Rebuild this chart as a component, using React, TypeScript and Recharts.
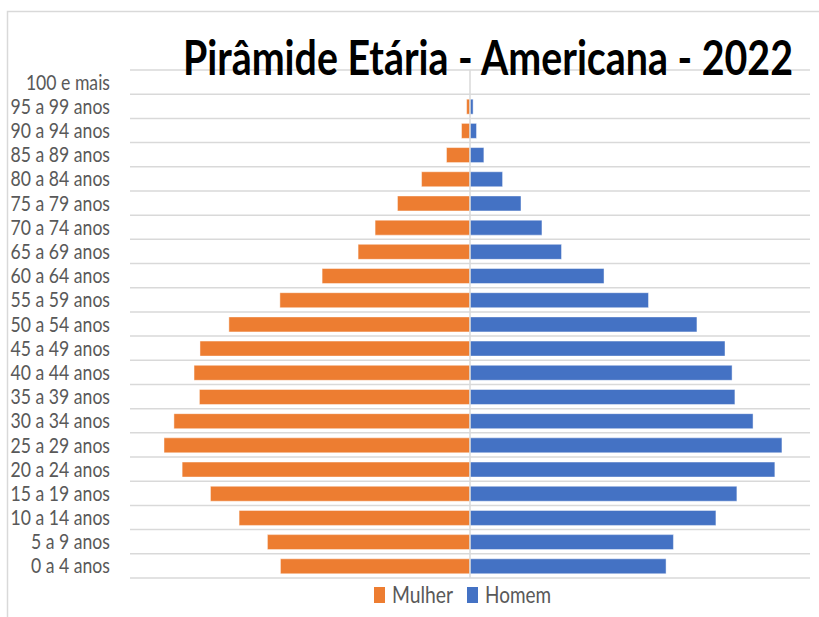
import React from "react";
import {
  BarChart,
  Bar,
  XAxis,
  YAxis,
  CartesianGrid,
  ReferenceLine,
  Legend,
} from "recharts";

// faixas etárias, de baixo para cima
const ages = [
  "0 a 4 anos",
  "5 a 9 anos",
  "10 a 14 anos",
  "15 a 19 anos",
  "20 a 24 anos",
  "25 a 29 anos",
  "30 a 34 anos",
  "35 a 39 anos",
  "40 a 44 anos",
  "45 a 49 anos",
  "50 a 54 anos",
  "55 a 59 anos",
  "60 a 64 anos",
  "65 a 69 anos",
  "70 a 74 anos",
  "75 a 79 anos",
  "80 a 84 anos",
  "85 a 89 anos",
  "90 a 94 anos",
  "95 a 99 anos",
  "100 e mais",
];

// milhões
const mulher = [
  6.69, 7.15, 8.15, 9.16, 10.16, 10.8, 10.45, 9.55, 9.74, 9.53, 8.51, 6.71,
  5.22, 3.95, 3.35, 2.56, 1.71, 0.83, 0.3, 0.12, 0,
];
const homem = [
  6.92, 7.18, 8.68, 9.42, 10.76, 11.01, 9.99, 9.35, 9.25, 9.0, 8.01, 6.3,
  4.73, 3.23, 2.54, 1.8, 1.15, 0.49, 0.23, 0.11, 0,
];

const seriesNames = ["Mulher", "Homem"];

const ORANGE = "#ED7D31";
const BLUE = "#4472C4";
const GRID = "#D9D9D9";
const TEXT = "#595959";
const FONT = "Lato, 'Open Sans', sans-serif";

const data = ages.map((age, i) => ({
  age,
  Mulher: -mulher[i],
  Homem: homem[i],
}));

const AgeTick = (props: any) => {
  const { x, y, payload } = props;
  return (
    <text
      x={x}
      y={y}
      dy="0.36em"
      textAnchor="end"
      fill={TEXT}
      fontSize={21}
      fontFamily={FONT}
      transform={`translate(${x} ${y}) scale(0.84 1) translate(${-x} ${-y})`}
    >
      {payload.value}
    </text>
  );
};

const LegendBox = (props: any) => {
  const items = [...(props.payload || [])].sort(
    (a: any, b: any) =>
      seriesNames.indexOf(a.value) - seriesNames.indexOf(b.value)
  );
  const widths = [61, 66];
  return (
    <svg width={200} height={30} style={{ overflow: "visible" }}>
      {items.map((it: any, i: number) => {
        const x0 = 1 + i * 93;
        return (
          <g key={it.value}>
            <rect x={x0} y={3} width={11} height={16} fill={it.color} />
            <text
              x={x0 + 18}
              y={19}
              fill={TEXT}
              fontSize={23}
              fontFamily={FONT}
              textLength={widths[i]}
              lengthAdjust="spacingAndGlyphs"
            >
              {it.value}
            </text>
          </g>
        );
      })}
    </svg>
  );
};

export default function App() {
  return (
    <div
      style={{
        position: "absolute",
        left: 0,
        top: 0,
        width: 819,
        height: 617,
        background: "#fff",
      }}
    >
      <BarChart
        width={819}
        height={617}
        data={data}
        layout="vertical"
        stackOffset="sign"
        barSize={15}
        margin={{ top: 70, right: 9, bottom: 39, left: 0 }}
      >
        <CartesianGrid
          vertical={false}
          stroke={GRID}
          strokeWidth={1.5}
          horizontalCoordinatesGenerator={({ offset }: any) =>
            Array.from(
              { length: ages.length + 1 },
              (_, i) => offset.top + (i * offset.height) / ages.length
            )
          }
        />
        <XAxis type="number" domain={[-12, 12]} hide />
        <YAxis
          type="category"
          dataKey="age"
          reversed
          width={130}
          axisLine={false}
          tickLine={false}
          tickSize={0}
          tickMargin={20}
          interval={0}
          tick={<AgeTick />}
        />
        <Bar
          dataKey="Mulher"
          stackId="p"
          fill={ORANGE}
          stroke="#ffffff"
          strokeOpacity={0.45}
          isAnimationActive={false}
        />
        <Bar
          dataKey="Homem"
          stackId="p"
          fill={BLUE}
          stroke="#ffffff"
          strokeOpacity={0.45}
          isAnimationActive={false}
        />
        <ReferenceLine x={0} stroke={GRID} strokeWidth={1.5} />
        <Legend
          layout="horizontal"
          verticalAlign="middle"
          align="center"
          wrapperStyle={{ top: 584, left: 373, width: 200, height: 30 }}
          content={<LegendBox />}
        />
      </BarChart>
      <svg
        width={819}
        height={617}
        style={{ position: "absolute", left: 0, top: 0, pointerEvents: "none" }}
      >
        <polyline
          points="7.5,617 7.5,11.5 819,11.5"
          fill="none"
          stroke={GRID}
          strokeWidth={1.5}
        />
        <text
          x={183}
          y={75}
          fontSize={40}
          fontWeight="bold"
          fontFamily={FONT}
          fill="#000"
          textLength={610}
          lengthAdjust="spacingAndGlyphs"
          transform="translate(183 75) scale(1 1.2) translate(-183 -75)"
        >
          Pirâmide Etária - Americana - 2022
        </text>
      </svg>
    </div>
  );
}
